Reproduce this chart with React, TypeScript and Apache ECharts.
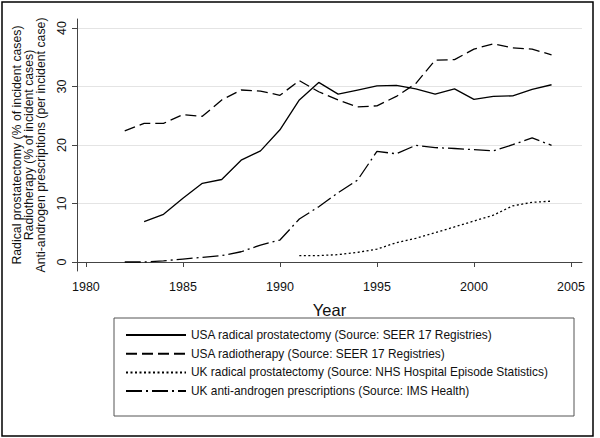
import React, { useEffect, useRef } from "react";
import * as echarts from "echarts";

const years = [1982, 1983, 1984, 1985, 1986, 1987, 1988, 1989, 1990, 1991, 1992, 1993, 1994, 1995, 1996, 1997, 1998, 1999, 2000, 2001, 2002, 2003, 2004];

const usaProstatectomy = [null, 6.9, 8.15, 10.9, 13.45, 14.1, 17.4, 19.0, 22.6, 27.7, 30.7, 28.7, 29.4, 30.1, 30.2, 29.6, 28.7, 29.6, 27.8, 28.3, 28.4, 29.5, 30.3];
const usaRadiotherapy = [22.4, 23.7, 23.7, 25.2, 24.9, 27.7, 29.4, 29.2, 28.5, 31.0, 29.1, 27.7, 26.5, 26.7, 28.3, 30.5, 34.5, 34.6, 36.4, 37.3, 36.6, 36.4, 35.4];
const ukProstatectomy = [null, null, null, null, null, null, null, null, null, 1.1, 1.1, 1.25, 1.65, 2.2, 3.3, 4.05, 5.0, 6.0, 7.0, 8.0, 9.6, 10.2, 10.4];
const ukAntiAndrogen = [0, 0, 0.2, 0.5, 0.8, 1.1, 1.75, 2.9, 3.75, 7.35, 9.45, 11.85, 14.0, 18.9, 18.5, 19.95, 19.55, 19.4, 19.2, 19.0, 20.05, 21.2, 19.95];

const seriesNames = [
  "USA radical prostatectomy (Source: SEER 17 Registries)",
  "USA radiotherapy (Source: SEER 17 Registries)",
  "UK radical prostatectomy (Source: NHS Hospital Episode Statistics)",
  "UK anti-androgen prescriptions (Source: IMS Health)",
];

const xTicks = [1980, 1985, 1990, 1995, 2000, 2005];
const yTicks = [0, 10, 20, 30, 40];

const yTitle = [
  "Radical prostatectomy (% of incident cases)",
  "Radiotherapy (% of incident cases)",
  "Anti-androgen prescriptions (per incident case)",
];
const xTitle = "Year";

const FONT = "'Liberation Sans', Arial, Helvetica, sans-serif";

function pairs(vals: (number | null)[]) {
  const out: [number, number][] = [];
  vals.forEach((v, i) => {
    if (v !== null) out.push([years[i], v]);
  });
  return out;
}

export default function App() {
  const ref = useRef<HTMLDivElement>(null);
  useEffect(() => {
    if (!ref.current) return;
    const chart = echarts.init(ref.current, undefined, { renderer: "svg" });
    const dashes: any[] = ["solid", [11, 5], [2, 2.5], [16, 4, 2, 4]];
    const allData = [usaProstatectomy, usaRadiotherapy, ukProstatectomy, ukAntiAndrogen];
    chart.setOption({
      animation: false,
      backgroundColor: "#ffffff",
      textStyle: { fontFamily: FONT },
      grid: { left: 77, right: 18, top: 19, bottom: 167, containLabel: false },
      xAxis: {
        type: "value",
        min: 1979.54,
        max: 2005.57,
        name: xTitle,
        nameLocation: "middle",
        nameGap: 30,
        nameTextStyle: { fontSize: 16.5, color: "#111", fontFamily: FONT },
        axisLine: { show: true, lineStyle: { color: "#444", width: 1 } },
        axisTick: { show: true, length: 5, customValues: xTicks, lineStyle: { color: "#444" } },
        axisLabel: {
          customValues: xTicks,
          formatter: (v: number) => String(v),
          fontSize: 12.5,
          color: "#111",
          margin: 9,
          fontFamily: FONT,
        },
        splitLine: { show: false },
      },
      yAxis: {
        type: "value",
        min: -1.54,
        max: 41.54,
        name: yTitle.join("\n"),
        nameLocation: "middle",
        nameRotate: 90,
        nameGap: 29,
        nameTextStyle: { fontSize: 12.3, lineHeight: 12, color: "#111", fontFamily: FONT, align: "center" },
        axisLine: { show: true, lineStyle: { color: "#444", width: 1 } },
        axisTick: { show: true, length: 5, customValues: yTicks, lineStyle: { color: "#444" } },
        axisLabel: {
          customValues: yTicks,
          rotate: 90,
          fontSize: 12.5,
          color: "#111",
          margin: 9,
          fontFamily: FONT,
        },
        splitLine: { show: true, lineStyle: { color: "#e4e4e4", width: 1 } },
      },
      legend: {
        orient: "vertical",
        left: 125,
        top: 328,
        padding: 0,
        itemWidth: 60,
        itemHeight: 14,
        itemGap: 4.7,
        selectedMode: false,
        data: seriesNames,
        itemStyle: { opacity: 0 },
        textStyle: { fontSize: 11.9, color: "#111", fontFamily: FONT, lineHeight: 14 },
      },
      graphic: [
        {
          type: "rect",
          shape: { x: 2, y: 2, width: 591, height: 434 },
          style: { fill: "none", stroke: "#000", lineWidth: 1.5 },
          silent: true,
        },
        {
          type: "rect",
          shape: { x: 114, y: 318, width: 460, height: 98 },
          style: { fill: "none", stroke: "#555", lineWidth: 1 },
          silent: true,
        },
      ],
      series: allData.map((d, i) => ({
        type: "line",
        name: seriesNames[i],
        data: pairs(d),
        showSymbol: false,
        symbol: "none",
        lineStyle: { color: "#000", width: 1.3, type: dashes[i] },
        itemStyle: { color: "#000" },
      })),
    });
    return () => chart.dispose();
  }, []);
  return <div ref={ref} style={{ position: "fixed", left: 0, top: 0, width: 600, height: 438 }} />;
}
